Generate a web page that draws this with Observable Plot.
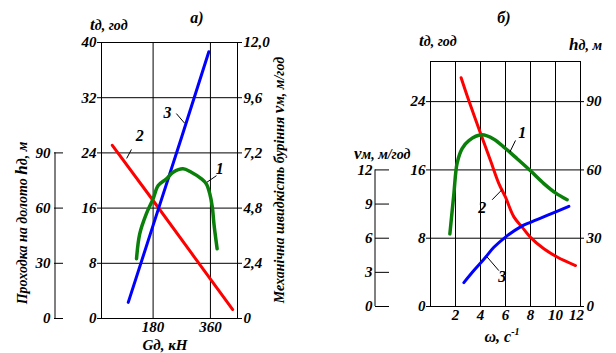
<!DOCTYPE html>
<html><head><meta charset="utf-8">
<script src="https://cdn.jsdelivr.net/npm/d3@7"></script>
<script src="https://cdn.jsdelivr.net/npm/@observablehq/plot@0.6"></script>
<style>
body{margin:0;background:#fff;}
#wrap{position:relative;width:616px;height:353px;overflow:hidden;background:#fff;font-family:"Liberation Serif","Times New Roman","DejaVu Serif",serif;}
.lbl{position:absolute;white-space:nowrap;font-style:italic;font-weight:bold;font-size:14px;line-height:1;color:#000;}
.big{font-size:17px;font-weight:bold;}
.pl{position:absolute;top:0;}
</style></head><body><div id="wrap"></div>
<script>
// ---------- Panel а) : vs Gд, кН ----------
const gRedA = [52, 180, 300, 430];
const tRedA = [25.1, 17.1, 9.5, 1.3];           // tд, год (curve 2)
const gBlueA = [102, 180, 270, 355];
const vBlueA = [0.7, 4.05, 7.9, 11.6];           // vм, м/год (curve 3)
const gGreenA = [128, 138, 159, 180, 196, 222, 243, 274, 300, 332, 347, 358, 366, 371, 381];
const hGreenA = [32.5, 46, 57, 65, 72.3, 75.9, 79.5, 81.4, 79.5, 75.9, 73.2, 67.8, 60.5, 51.5, 37.9]; // hд, м (curve 1)

const gDomainA = [18, 445];
const tDomainA = [0, 40];
const gTicksA = [180, 360];
const tTicksA = [0, 8, 16, 24, 32, 40];
const vMaxA = 12;          // right axis 0..12,0
const hTicksA = [0, 30, 60, 90];
const hAt24A = 90;         // h 90 ↔ t 24

const annTextA = ["1", "2", "3"];
const annGA = [389, 138, 225];
const annTA = [21.7, 26.5, 29.75];
const leadG1A = [379, 112, 253], leadT1A = [20.7, 24.5, 29.7];
const leadG2A = [349, 97, 279],  leadT2A = [19.75, 23.2, 28.3];

// ---------- Panel б) : vs ω, с⁻¹ ----------
const wRedB = [2.45, 3, 4, 4.8, 5.47, 6, 6.67, 7.33, 8, 9.07, 10.13, 11.6];
const tRedB = [26.8, 24.4, 20.3, 17.1, 14.4, 12.8, 10.5, 9.3, 8.1, 6.76, 5.8, 4.8];     // tд, год (2)
const wGreenB = [1.55, 1.87, 2.13, 2.53, 3.07, 4.1, 5.07, 6, 6.93, 8, 9.07, 10, 10.93];
const hGreenB = [31.9, 49.5, 63, 69.4, 72.9, 75.4, 73.5, 69.4, 64.9, 59.6, 54, 49.9, 46.9]; // hд, м (1)
const wBlueB = [2.67, 3.5, 4.27, 5.07, 6, 7.2, 8, 9.33, 11.07];
const vBlueB = [2.1, 3.2, 4.15, 5.2, 6.1, 7.0, 7.4, 8.0, 8.8];                          // vм, м/год (3)

const wDomainB = [0, 12];
const tDomainB = [0, 28.7];
const wTicksB = [2, 4, 6, 8, 10, 12];
const tTicksB = [0, 8, 16, 24];
const hTicksB = [0, 30, 60, 90];
const vTicksB = [0, 3, 6, 9, 12];
const hAt24B = 90;   // h 90 ↔ t 24
const vAt16B = 12;   // v 12 ↔ t 16

const annTextB = ["1", "2", "3"];
const annWB = [7.33, 4.13, 5.73];
const annTB = [20.3, 11.6, 3.43];
const leadW1B = [6.8, 4.93, 5.47], leadT1B = [19.45, 12.5, 4.2];
const leadW2B = [6.35, 5.73, 4.53], leadT2B = [18.1, 13.7, 5.8];

// conversions to the shared t-scale of each panel
const tPerVA = tDomainA[1] / vMaxA;
const tPerHA = 24 / hAt24A;
const tPerHB = 24 / hAt24B;
const tPerVB = 16 / vAt16B;

const RED = "#ff0000", BLUE = "#0000ff", GREEN = "#0a800a";
const style = {background: "transparent", overflow: "visible",
  fontFamily: "'Liberation Serif', 'Times New Roman', 'DejaVu Serif', serif",
  fontSize: "15px", fontStyle: "italic", fontWeight: "bold", color: "#000", maxWidth: "none"};
const gridOpt = {stroke: "#000", strokeOpacity: 1, strokeWidth: 1};

const redA = gRedA.map((g, i) => ({x: g, y: tRedA[i]}));
const blueA = gBlueA.map((g, i) => ({x: g, y: vBlueA[i] * tPerVA}));
const greenA = gGreenA.map((g, i) => ({x: g, y: hGreenA[i] * tPerHA}));
const annA = annTextA.map((s, i) => ({s, x: annGA[i], y: annTA[i], x1: leadG1A[i], y1: leadT1A[i], x2: leadG2A[i], y2: leadT2A[i]}));

const plotA = Plot.plot({
  width: 300, height: 353,
  marginLeft: 101, marginRight: 63, marginTop: 42, marginBottom: 35,
  x: {domain: gDomainA, axis: null},
  y: {domain: tDomainA, axis: null},
  style,
  marks: [
    Plot.gridY(tTicksA.filter(t => t > 0 && t < tDomainA[1]), gridOpt),
    Plot.gridX(gTicksA, gridOpt),
    Plot.frame({stroke: "#000"}),
    Plot.axisY(tTicksA, {anchor: "left", tickSize: 4, tickPadding: 1, label: null}),
    Plot.axisY(tTicksA, {anchor: "right", tickSize: 4, tickPadding: 2, label: null,
      tickFormat: d => { const v = d / tPerVA; return v === 0 ? "0" : v.toFixed(1).replace(".", ","); }}),
    Plot.axisY(hTicksA.map(h => h * tPerHA), {anchor: "left", dx: -38, tickSize: 9, tickPadding: 4, label: null,
      tickFormat: d => String(Math.round(d / tPerHA))}),
    Plot.ruleX([gDomainA[0]], {y1: 0, y2: hAt24A * tPerHA, dx: -46.5, stroke: "#000"}),
    Plot.axisX(gTicksA, {anchor: "bottom", tickSize: 0, tickPadding: 3, label: null}),
    Plot.line(redA, {x: "x", y: "y", stroke: RED, strokeWidth: 3}),
    Plot.line(blueA, {x: "x", y: "y", stroke: BLUE, strokeWidth: 3}),
    Plot.line(greenA, {x: "x", y: "y", stroke: GREEN, strokeWidth: 3.5, curve: "catmull-rom"}),
    Plot.link(annA, {x1: "x1", y1: "y1", x2: "x2", y2: "y2", stroke: "#000", strokeWidth: 1}),
    Plot.text(annA, {x: "x", y: "y", text: "s", fontSize: 16})
  ]
});

const redB = wRedB.map((w, i) => ({x: w, y: tRedB[i]}));
const greenB = wGreenB.map((w, i) => ({x: w, y: hGreenB[i] * tPerHB}));
const blueB = wBlueB.map((w, i) => ({x: w, y: vBlueB[i] * tPerVB}));
const annB = annTextB.map((s, i) => ({s, x: annWB[i], y: annTB[i], x1: leadW1B[i], y1: leadT1B[i], x2: leadW2B[i], y2: leadT2B[i]}));

const plotB = Plot.plot({
  width: 316, height: 353,
  marginLeft: 130, marginRight: 36, marginTop: 61, marginBottom: 47,
  x: {domain: wDomainB, axis: null},
  y: {domain: tDomainB, axis: null},
  style,
  marks: [
    Plot.gridY(tTicksB.filter(t => t > 0), gridOpt),
    Plot.gridX(wTicksB.filter(w => w < wDomainB[1]), gridOpt),
    Plot.frame({stroke: "#000"}),
    Plot.axisY(tTicksB, {anchor: "left", tickSize: 4, tickPadding: 1, label: null}),
    Plot.axisY(hTicksB.map(h => h * tPerHB), {anchor: "right", tickSize: 3, tickPadding: 3, label: null,
      tickFormat: d => String(Math.round(d / tPerHB))}),
    Plot.axisY(vTicksB.map(v => v * tPerVB), {anchor: "left", dx: -41, tickSize: 14, tickPadding: 3, label: null,
      tickFormat: d => String(Math.round(d / tPerVB))}),
    Plot.ruleX([wDomainB[0]], {y1: 0, y2: vAt16B * tPerVB, dx: -55.5, stroke: "#000"}),
    Plot.axisX(wTicksB.filter(w => w < wDomainB[1]), {anchor: "bottom", tickSize: 0, tickPadding: 3, label: null}),
    Plot.axisX([wDomainB[1]], {anchor: "bottom", tickSize: 0, tickPadding: 3, dx: -4, label: null}),
    Plot.line(redB, {x: "x", y: "y", stroke: RED, strokeWidth: 3, curve: "catmull-rom"}),
    Plot.line(blueB, {x: "x", y: "y", stroke: BLUE, strokeWidth: 3, curve: "catmull-rom"}),
    Plot.line(greenB, {x: "x", y: "y", stroke: GREEN, strokeWidth: 3.5, curve: "catmull-rom"}),
    Plot.link(annB, {x1: "x1", y1: "y1", x2: "x2", y2: "y2", stroke: "#000", strokeWidth: 1}),
    Plot.text(annB, {x: "x", y: "y", text: "s", fontSize: 16})
  ]
});

const wrap = document.getElementById("wrap");
plotA.classList.add("pl"); plotA.style.left = "0px";
plotB.classList.add("pl"); plotB.style.left = "300px";
wrap.appendChild(plotA);
wrap.appendChild(plotB);

function label(html, x, y, opts = {}) {
  const d = document.createElement("div");
  d.className = "lbl";
  d.innerHTML = html;
  d.style.left = x + "px";
  d.style.top = y + "px";
  const ax = opts.anchor === "start" ? "0" : "-50%";
  d.style.transform = `translate(${ax},-50%)` + (opts.rotate ? ` rotate(${opts.rotate}deg)` : "");
  if (opts.size) d.style.fontSize = opts.size + "px";
  wrap.appendChild(d);
}
label("а)", 197, 18, {size: 16});
label("б)", 504, 18, {size: 16});
label('<span class="big">t</span>д, год', 90, 24, {anchor: "start"});
label('<span class="big">t</span>д, год', 419, 40, {anchor: "start"});
label('<span class="big">h</span>д, м', 569, 44, {anchor: "start"});
label('<span class="big">v</span>м, м/год', 354, 153, {anchor: "start"});
label("Gд, кН", 165, 345, {size: 15});
label('ω, с<sup style="font-size:10px">-1</sup>', 502, 336, {size: 16});
label('Механічна швидкість буріння <span class="big">v</span>м, м/год', 278, 180, {rotate: -90, size: 14});
label('Проходка на долото <span class="big">h</span>д, м', 21, 223, {rotate: -90, size: 14});
</script>
</body></html>
